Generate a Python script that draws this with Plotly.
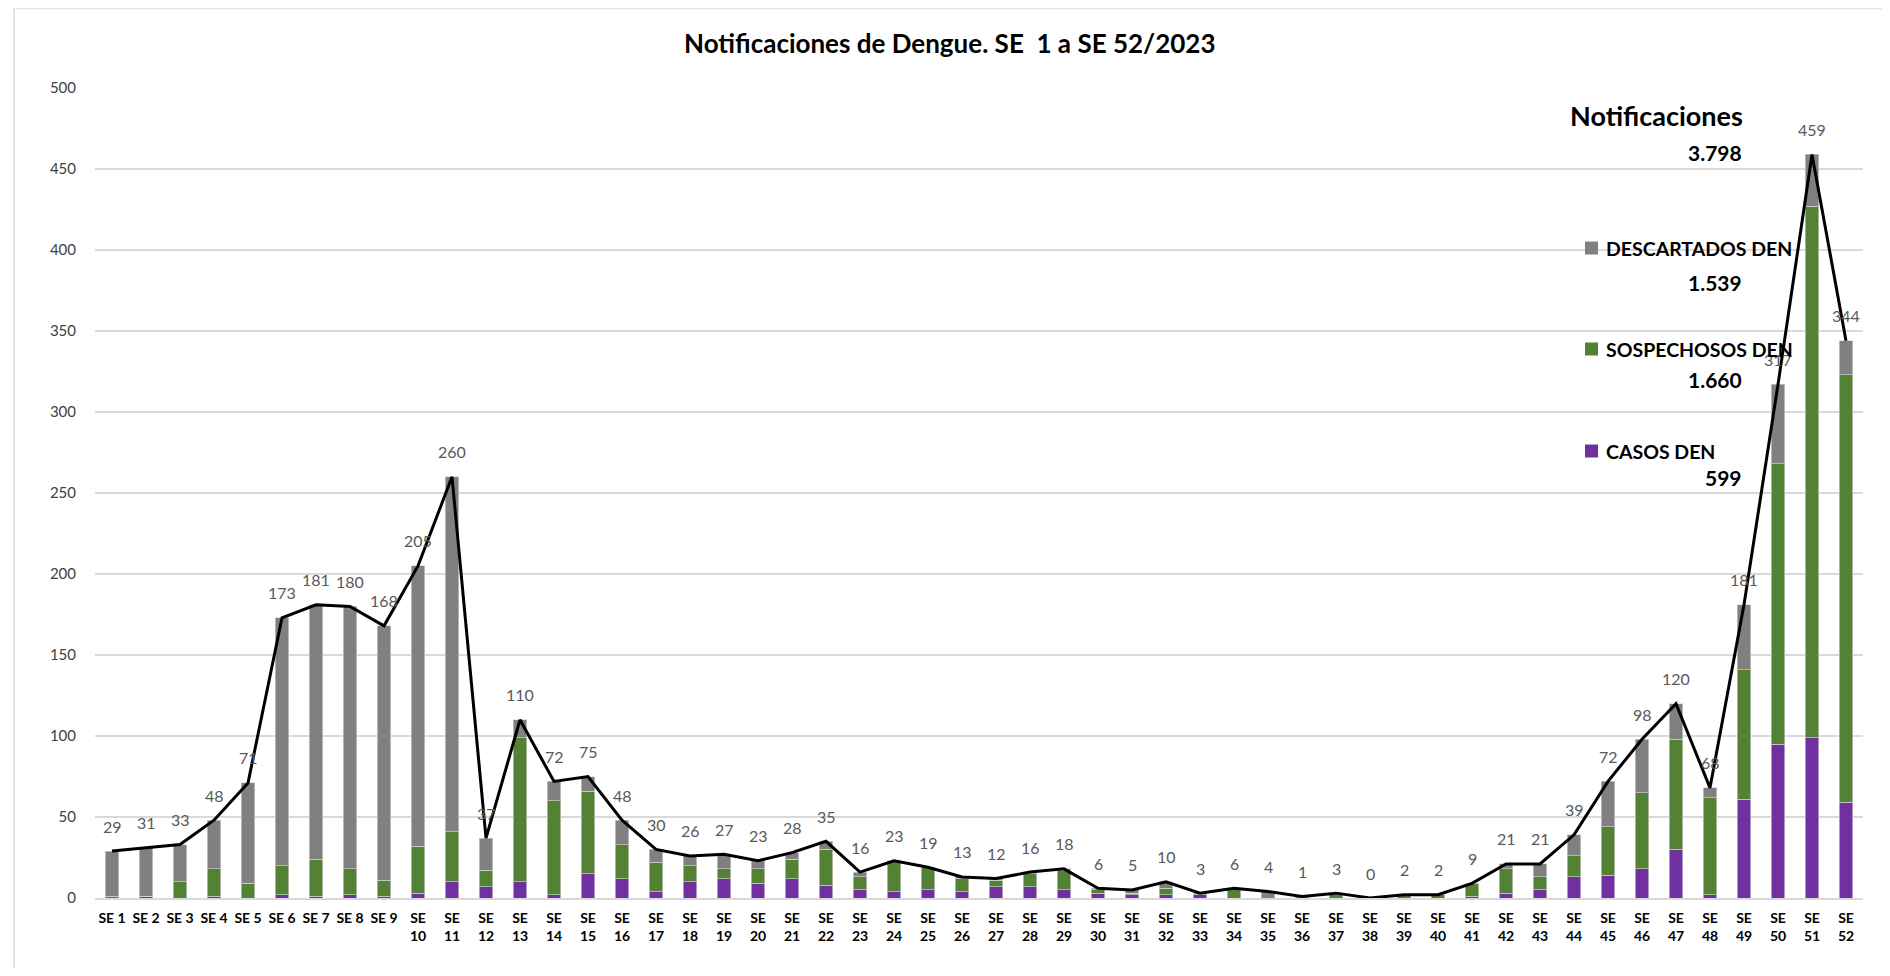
import plotly.graph_objects as go

weeks = [f"SE {i}" for i in range(1, 53)]
tick_labels = [f"<b>SE {i}</b>" if i < 10 else f"<b>SE<br>{i}</b>" for i in range(1, 53)]

totals = [29, 31, 33, 48, 71, 173, 181, 180, 168, 205, 260, 37, 110, 72, 75, 48, 30, 26, 27, 23,
          28, 35, 16, 23, 19, 13, 12, 16, 18, 6, 5, 10, 3, 6, 4, 1, 3, 0, 2, 2,
          9, 21, 21, 39, 72, 98, 120, 68, 181, 317, 459, 344]
casos = [0, 1, 0, 1, 0, 2, 1, 2, 1, 3, 10, 7, 10, 2, 15, 12, 4, 10, 12, 9,
         12, 8, 5, 4, 5, 4, 7, 7, 5, 3, 2, 2, 2, 0, 0, 0, 0, 0, 0, 0,
         1, 3, 5, 13, 14, 18, 30, 2, 61, 95, 99, 59]
sospechosos = [1, 0, 10, 17, 9, 18, 23, 16, 10, 29, 31, 10, 89, 58, 51, 21, 18, 10, 6, 9,
               12, 22, 8, 19, 14, 8, 4, 8, 12, 2, 1, 4, 0, 5, 0, 0, 2, 0, 2, 2,
               8, 15, 8, 13, 30, 47, 68, 60, 80, 173, 328, 264]
descartados = [t - c - s for t, c, s in zip(totals, casos, sospechosos)]

legend_names = ["DESCARTADOS DEN", "SOSPECHOSOS DEN", "CASOS DEN"]
legend_totals = ["1.539", "1.660", "599"]
total_label = "3.798"

C_CASOS = "#7030a0"
C_SOSP = "#548235"
C_DESC = "#808080"
FONT = "Lato, 'Open Sans', sans-serif"

fig = go.Figure()
for name, vals, col in [("CASOS DEN", casos, C_CASOS),
                        ("SOSPECHOSOS DEN", sospechosos, C_SOSP),
                        ("DESCARTADOS DEN", descartados, C_DESC)]:
    fig.add_trace(go.Bar(x=weeks, y=vals, name=name, marker_color=col,
                         marker_line=dict(color="#d9d9d9", width=0.6), showlegend=False))

fig.add_trace(go.Scatter(x=weeks, y=totals, mode="lines", line=dict(color="black", width=3),
                         showlegend=False, cliponaxis=False))

# page body adds an 8px offset; figure coordinates = screen - 8
OFF = 8
W, H = 1874, 960
L, R, T, B = 87, 19, 80, 70
pw, ph = W - L - R, H - T - B

def px(x):
    return (x - OFF - L) / pw

def py(y):
    return 1 - (y - OFF - T) / ph

shapes = [
    dict(type="line", xref="paper", yref="paper", x0=px(14), x1=px(14), y0=py(H + 20), y1=py(8),
         line=dict(color="#d9d9d9", width=1.5), layer="below"),
    dict(type="line", xref="paper", yref="paper", x0=px(14), x1=px(1890), y0=py(8.5), y1=py(8.5),
         line=dict(color="#e3e3e3", width=1.5), layer="below"),
]

annotations = [
    dict(text="<b>Notificaciones de Dengue. SE  1 a SE 52/2023</b>", xref="paper", yref="paper",
         x=px(950), y=py(43), showarrow=False, font=dict(size=26, color="black", family=FONT),
         xanchor="center", yanchor="middle"),
    dict(text="<b>Notificaciones</b>", xref="paper", yref="paper", x=px(1745), y=py(116),
         showarrow=False, font=dict(size=27, color="black", family=FONT), xanchor="right", yanchor="middle"),
    dict(text=f"<b>{total_label}</b>", xref="paper", yref="paper", x=px(1744), y=py(152),
         showarrow=False, font=dict(size=21, color="black", family=FONT), xanchor="right", yanchor="middle"),
]
for wk, tv in zip(weeks, totals):
    annotations.append(dict(text=str(tv), x=wk, y=tv, xref="x", yref="y", showarrow=False,
                            yshift=25, xanchor="center", yanchor="middle",
                            font=dict(size=16, color="#595959", family=FONT)))

leg_y = [248, 349, 451]
num_y = [282, 379, 477]
leg_cols = [C_DESC, C_SOSP, C_CASOS]
for name, tot, col, yy, ny in zip(legend_names, legend_totals, leg_cols, leg_y, num_y):
    shapes.append(dict(type="rect", xref="paper", yref="paper", x0=px(1585), x1=px(1598),
                       y0=py(yy + 6.5), y1=py(yy - 6.5), fillcolor=col, line_width=0))
    annotations.append(dict(text=f"<b>{name}</b>", xref="paper", yref="paper", x=px(1604), y=py(yy),
                            showarrow=False, font=dict(size=19.5, color="black", family=FONT),
                            xanchor="left", yanchor="middle"))
    annotations.append(dict(text=f"<b>{tot}</b>", xref="paper", yref="paper", x=px(1744), y=py(ny),
                            showarrow=False, font=dict(size=21, color="black", family=FONT),
                            xanchor="right", yanchor="middle"))

fig.update_layout(
    width=W, height=H,
    margin=dict(l=L, r=R, t=T, b=B, autoexpand=False),
    paper_bgcolor="white", plot_bgcolor="white",
    barmode="stack", bargap=0.59,
    font=dict(family=FONT, color="#404040"),
    shapes=shapes, annotations=annotations,
    xaxis=dict(tickmode="array", tickvals=weeks, ticktext=tick_labels,
               tickfont=dict(size=14, color="black", family=FONT), tickangle=0,
               showgrid=False, showline=True, linecolor="#d9d9d9", linewidth=1.5,
               ticks="", ticklabelstandoff=6),
    yaxis=dict(range=[0, 500], dtick=50, showgrid=True, gridcolor="#d9d9d9", gridwidth=1.5,
               zeroline=False, showline=False, ticks="",
               tickfont=dict(size=15, color="#404040", family=FONT), ticklabelstandoff=18),
)

fig.write_html("out.html")
